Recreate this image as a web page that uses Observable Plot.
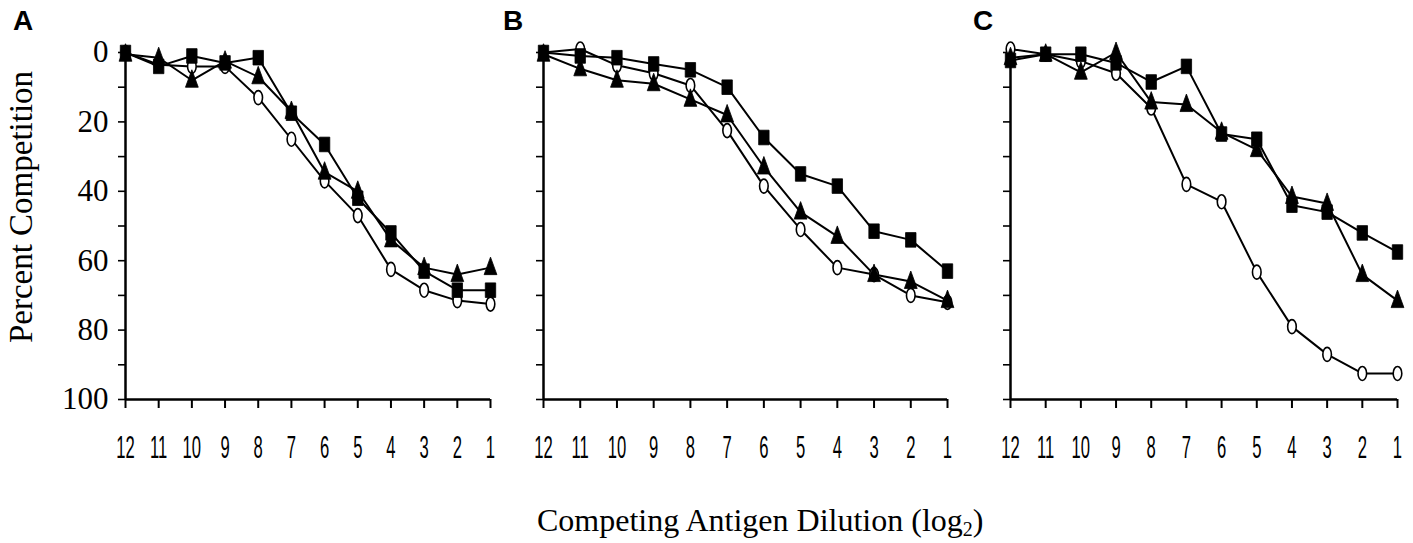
<!DOCTYPE html>
<html><head><meta charset="utf-8">
<script src="https://cdn.jsdelivr.net/npm/d3@7"></script>
<script src="https://cdn.jsdelivr.net/npm/@observablehq/plot@0.6"></script>
<style>
body{margin:0;background:#fff;}
#wrap{position:relative;width:1413px;height:543px;overflow:hidden;background:#fff;}
#wrap > svg{position:absolute;top:0;overflow:visible;}
</style></head><body><div id="wrap"></div>
<script>
// ---- data ----
const dilutions = [12, 11, 10, 9, 8, 7, 6, 5, 4, 3, 2, 1];
const yTicks = [0, 10, 20, 30, 40, 50, 60, 70, 80, 90, 100];
const panelLetters = ["A", "B", "C"];
const yTitle = "Percent Competition";
const xTitle = "Competing Antigen Dilution (log";
const xTitleSub = "2";

const aSquare   = [0, 4, 1, 3, 1.5, 17.5, 26.5, 42, 52, 63, 68.5, 68.5];
const aTriangle = [0.5, 1.5, 8, 2.5, 7, 17, 34.5, 40, 54, 62, 64, 62];
const aCircle   = [0, 3.5, 4, 4, 13, 25, 37, 47, 62.5, 68.5, 71.5, 72.5];

const bSquare   = [0, 1, 1.5, 3.3, 5, 10, 24.5, 35, 38.5, 51.5, 54, 63];
const bTriangle = [0.5, 4.7, 8, 9, 13.5, 18, 33, 46, 53, 64, 66, 71.5];
const bCircle   = [0, -1, 3.7, 6, 9.5, 22.5, 38.5, 51, 62, 64, 70, 72];

const cSquare   = [2.3, 0.5, 0.5, 3, 8.5, 4, 23.5, 25, 44, 46, 52, 57.5];
const cTriangle = [1.5, 0.5, 5.7, 0, 14.3, 15, 23, 28, 41.5, 43.5, 64, 71.5];
const cCircle   = [-1, 0.5, 2.5, 6, 16, 38, 43, 63.3, 79, 87, 92.5, 92.5];

const panelSeries = [
  {square: aSquare, triangle: aTriangle, circle: aCircle},
  {square: bSquare, triangle: bTriangle, circle: bCircle},
  {square: cSquare, triangle: cTriangle, circle: cCircle}
];

// ---- layout ----
const layout = [
  {left: 0,   width: 515, ml: 125, mr: 25, letterX: 13},
  {left: 515, width: 450, ml: 28,  mr: 18, letterX: 503},
  {left: 965, width: 448, ml: 45,  mr: 16, letterX: 973}
];
const H = 470, MT = 52, MB = 71;

// ---- custom symbols ----
const symSquare = {draw(ctx){ ctx.moveTo(-5.2,-7.3); ctx.lineTo(5.2,-7.3); ctx.lineTo(5.2,7.3); ctx.lineTo(-5.2,7.3); ctx.closePath(); }};
const symTriangle = {draw(ctx){ ctx.moveTo(0,-10.5); ctx.lineTo(6.4,7); ctx.lineTo(-6.4,7); ctx.closePath(); }};
const symEllipse = {draw(ctx){
  const rx = 4.3, ry = 7, k = 0.5523;
  ctx.moveTo(rx, 0);
  ctx.bezierCurveTo(rx, ry*k, rx*k, ry, 0, ry);
  ctx.bezierCurveTo(-rx*k, ry, -rx, ry*k, -rx, 0);
  ctx.bezierCurveTo(-rx, -ry*k, -rx*k, -ry, 0, -ry);
  ctx.bezierCurveTo(rx*k, -ry, rx, -ry*k, rx, 0);
  ctx.closePath();
}};

const wrap = document.getElementById("wrap");

panelSeries.forEach((ser, pi) => {
  const L = layout[pi];
  const rows = [];
  for (const name of ["circle", "triangle", "square"]) {
    ser[name].forEach((v, i) => rows.push({series: name, dil: dilutions[i], value: v}));
  }
  const of = n => rows.filter(d => d.series === n);
  const svg = Plot.plot({
    width: L.width, height: H,
    marginLeft: L.ml, marginRight: L.mr, marginTop: MT, marginBottom: MB,
    style: {background: "transparent", overflow: "visible"},
    x: {domain: [12, 1], axis: null},
    y: {domain: [0, 100], reverse: true, axis: null},
    marks: [
      Plot.axisX({ticks: dilutions, tickSize: 9, tickPadding: 27, tickFormat: d => String(d),
        fontSize: 32, fontFamily: "Liberation Sans", strokeWidth: 2, label: null}),
      Plot.axisY({ticks: yTicks, tickSize: 7, tickPadding: 10,
        tickFormat: pi === 0 ? (d => d % 20 === 0 ? String(d) : "") : (() => ""),
        fontSize: 31, fontFamily: "Liberation Serif", strokeWidth: 1.6, label: null}),
      Plot.ruleX([12], {y1: 0, y2: 100, stroke: "black", strokeWidth: 2.5}),
      Plot.ruleY([100], {x1: 12, x2: 1, stroke: "black", strokeWidth: 2.5}),
      Plot.line(rows, {x: "dil", y: "value", z: "series", stroke: "black", strokeWidth: 2}),
      Plot.dot(of("circle"), {x: "dil", y: "value", symbol: symEllipse, fill: "white", stroke: "black", strokeWidth: 1.6}),
      Plot.dot(of("triangle"), {x: "dil", y: "value", symbol: symTriangle, fill: "black", stroke: "black", strokeWidth: 0.8}),
      Plot.dot(of("square"), {x: "dil", y: "value", symbol: symSquare, fill: "black", stroke: "black", strokeWidth: 0.8})
    ]
  });
  svg.style.left = L.left + "px";
  // condense x tick labels
  svg.querySelectorAll('g[aria-label="x-axis tick label"] text').forEach(t => {
    const tr = t.getAttribute("transform");
    if (tr) {
      t.setAttribute("transform", tr + " scale(0.52,1)");
    } else {
      const x = +t.getAttribute("x") || 0, y = +t.getAttribute("y") || 0;
      t.setAttribute("x", 0); t.setAttribute("y", 0);
      t.setAttribute("transform", `translate(${x},${y}) scale(0.52,1)`);
    }
  });
  wrap.appendChild(svg);
});

// ---- text overlay ----
const ov = d3.select(wrap).append("svg")
  .attr("width", 1413).attr("height", 543)
  .style("left", "0px").style("pointer-events", "none");
panelLetters.forEach((t, i) => {
  ov.append("text").attr("x", layout[i].letterX).attr("y", 30)
    .attr("font-family", "Liberation Sans").attr("font-weight", "bold")
    .attr("font-size", 28).text(t);
});
ov.append("text")
  .attr("transform", "translate(32,207) rotate(-90)")
  .attr("text-anchor", "middle")
  .attr("font-family", "Liberation Serif").attr("font-size", 33)
  .text(yTitle);
const xt = ov.append("text").attr("x", 537).attr("y", 531)
  .attr("font-family", "Liberation Serif").attr("font-size", 32);
xt.append("tspan").text(xTitle);
xt.append("tspan").attr("font-size", 20).attr("dy", 5).text(xTitleSub);
xt.append("tspan").attr("dy", -5).text(")");
</script></body></html>
